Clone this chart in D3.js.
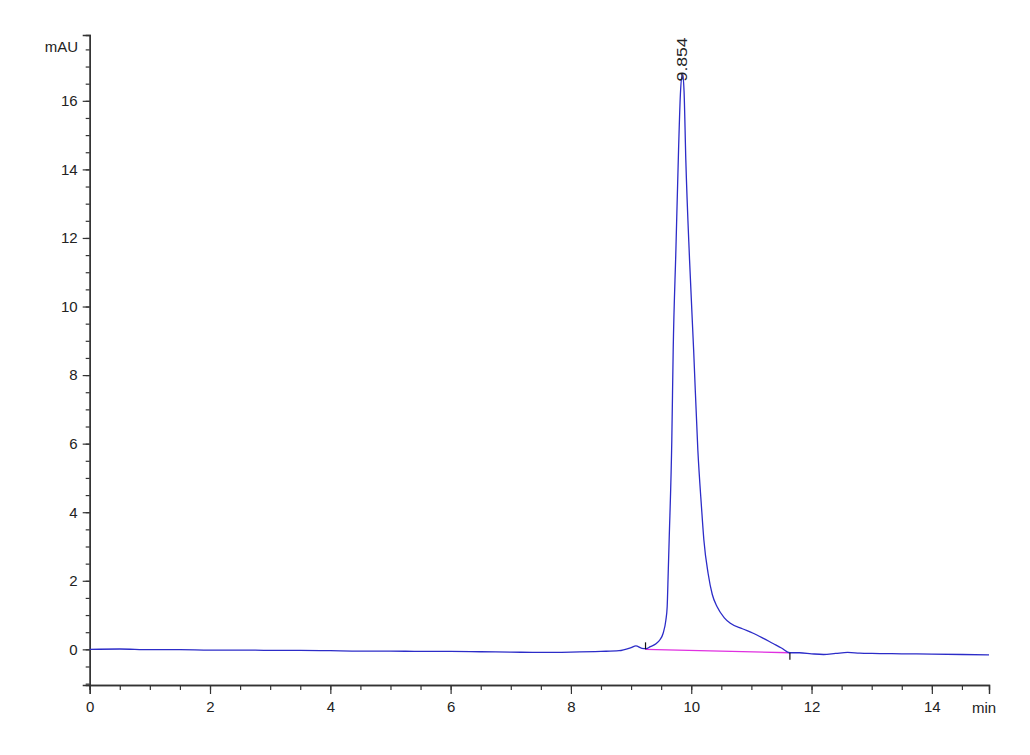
<!DOCTYPE html>
<html>
<head>
<meta charset="utf-8">
<script src="https://cdn.jsdelivr.net/npm/d3@7/dist/d3.min.js"></script>
<style>
  html, body { margin: 0; padding: 0; background: #fff; }
  svg { display: block; }
  text { font-family: "Liberation Sans Narrow", "Liberation Sans", Arial, sans-serif; fill: #222; }
</style>
</head>
<body>
<svg id="chart" width="1030" height="755"></svg>
<script>
// Retention time (min) and absorbance (mAU)
const times = [0, 0.5, 1.0, 1.5, 2.0, 2.5, 3.0, 3.5, 4.0, 4.5, 5.0, 5.5, 6.0, 6.5, 7.0, 7.5, 8.0, 8.5, 8.8,
  9.0, 9.08, 9.18, 9.25, 9.32, 9.42, 9.48, 9.533, 9.578, 9.6, 9.617, 9.633, 9.677, 9.70, 9.745, 9.789, 9.82,
  9.854, 9.88, 9.91, 9.972, 10.04, 10.11, 10.17, 10.21, 10.28, 10.35, 10.43, 10.55, 10.65, 10.85, 11.03,
  11.2, 11.36, 11.5, 11.64, 11.8, 12.0, 12.2, 12.4, 12.6, 12.8, 13.0, 13.5, 14.0, 14.5, 14.95];
const absorbance = [0.0, 0.01, -0.01, -0.01, -0.02, -0.02, -0.03, -0.03, -0.04, -0.05, -0.05, -0.06, -0.06, -0.07, -0.08, -0.09, -0.08, -0.06, -0.04,
  0.05, 0.10, 0.03, 0.02, 0.08, 0.17, 0.28, 0.47, 0.85, 1.24, 2.22, 3.19, 6.1, 8.73, 11.65, 14.56, 16.2,
  16.8, 16.3, 14.27, 11.36, 8.73, 5.81, 4.16, 3.19, 2.22, 1.6, 1.24, 0.92, 0.76, 0.6, 0.47,
  0.32, 0.17, 0.04, -0.10, -0.10, -0.13, -0.15, -0.12, -0.09, -0.11, -0.12, -0.13, -0.14, -0.15, -0.16];
// Integration baseline (start / end of peak)
const baseTimes = [9.24, 11.64];
const baseValues = [0.0, -0.10];
// Peak annotation
const peakLabels = ["9.854"];
const peakTimes = [9.854];
const peakValues = [16.8];
// Axis ticks
const xMajorTicks = [0, 2, 4, 6, 8, 10, 12, 14];
const xMinorTicks = d3.range(0, 14.51, 0.5);
const yMajorTicks = [0, 2, 4, 6, 8, 10, 12, 14, 16];
const yMinorTicks = d3.range(-1, 17.51, 0.5);
const xUnit = "min";
const yUnit = "mAU";

const svg = d3.select("#chart");
const x = d3.scaleLinear().domain([0, 14.95]).range([89.7, 989]);
const y = d3.scaleLinear().domain([-1.04, 17.92]).range([685, 35]);

const axisColor = "#333";

// Y axis
const yMinor = svg.append("g").attr("transform", `translate(${x(0)},0)`)
  .call(d3.axisLeft(y).tickValues(yMinorTicks).tickSize(4).tickFormat(""));
const yMajor = svg.append("g").attr("transform", `translate(${x(0)},0)`)
  .call(d3.axisLeft(y).tickValues(yMajorTicks).tickSize(7).tickPadding(5).tickFormat(d3.format("d")));
[yMinor, yMajor].forEach(g => {
  g.select(".domain").attr("stroke", axisColor).attr("stroke-width", 1.4);
  g.selectAll(".tick line").attr("stroke", axisColor).attr("stroke-width", 1.2);
  g.selectAll(".tick text").style("font-size", "15px").attr("fill", "#222");
});

// X axis
const xMinor = svg.append("g").attr("transform", `translate(0,${y(-1.04)})`)
  .call(d3.axisBottom(x).tickValues(xMinorTicks).tickSize(5).tickFormat(""));
const xMajor = svg.append("g").attr("transform", `translate(0,${y(-1.04)})`)
  .call(d3.axisBottom(x).tickValues(xMajorTicks).tickSize(9).tickPadding(7).tickFormat(d3.format("d")));
[xMinor, xMajor].forEach(g => {
  g.select(".domain").attr("stroke", axisColor).attr("stroke-width", 1.4);
  g.selectAll(".tick line").attr("stroke", axisColor).attr("stroke-width", 1.2);
  g.selectAll(".tick text").style("font-size", "15px").attr("fill", "#222");
});

// Unit labels
svg.append("text").attr("x", 78).attr("y", 52).attr("text-anchor", "end")
  .style("font-size", "15px").attr("fill", "#333").text(yUnit);
svg.append("text").attr("x", 972).attr("y", 713)
  .style("font-size", "15px").attr("fill", "#333").text(xUnit);

// Integration baseline
const baseData = baseTimes.map((t, i) => [t, baseValues[i]]);
svg.append("path").datum(baseData)
  .attr("fill", "none").attr("stroke", "#e030e0").attr("stroke-width", 1.3)
  .attr("d", d3.line().x(d => x(d[0])).y(d => y(d[1])));

// Signal trace
const data = times.map((t, i) => [t, absorbance[i]]);
svg.append("path").datum(data)
  .attr("fill", "none").attr("stroke", "#2c2cc8").attr("stroke-width", 1.3)
  .attr("d", d3.line().x(d => x(d[0])).y(d => y(d[1])).curve(d3.curveMonotoneX));

// Peak start/end markers
svg.append("line").attr("x1", x(baseTimes[0])).attr("x2", x(baseTimes[0]))
  .attr("y1", y(baseValues[0]) - 7).attr("y2", y(baseValues[0]))
  .attr("stroke", "#111").attr("stroke-width", 1.2);
svg.append("line").attr("x1", x(baseTimes[1])).attr("x2", x(baseTimes[1]))
  .attr("y1", y(baseValues[1])).attr("y2", y(baseValues[1]) + 7)
  .attr("stroke", "#111").attr("stroke-width", 1.2);

// Peak label (drawn over the apex, reading upwards)
peakLabels.forEach((lab, i) => {
  const px = x(peakTimes[i]) + 5, py = y(peakValues[i]) + 8;
  svg.append("text")
    .attr("transform", `translate(${px},${py}) rotate(-90)`)
    .attr("text-anchor", "start")
    .attr("textLength", 44).attr("lengthAdjust", "spacingAndGlyphs")
    .style("font-size", "15px").attr("fill", "#222").text(lab);
});
</script>
</body>
</html>
